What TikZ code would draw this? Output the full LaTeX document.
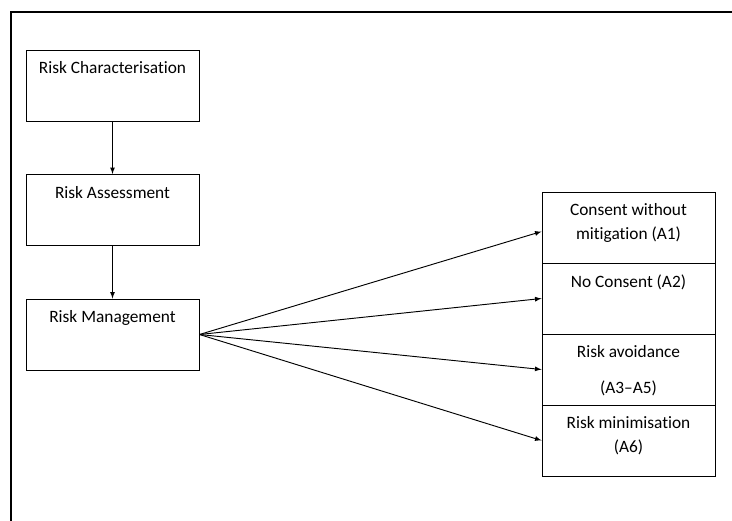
\documentclass[tikz,border=0pt]{standalone}
\usepackage{fontspec}
\setmainfont{Carlito}[Ligatures=NoCommon]
\begin{document}
\begin{tikzpicture}[x=0.75pt, y=-0.75pt, >={latex[scale=1.3]},
        box/.style={draw, line width=0.7pt, minimum width=129.75pt, minimum height=53.25pt, inner sep=0pt},
        txt/.style={anchor=north, inner sep=0pt, align=center, yshift=-9pt, font=\fontsize{13}{18}\selectfont}]
        \useasboundingbox (0, 0) rectangle (732, 521);
        \draw[line width=1.3pt] (11, 521) -- (11, 12) -- (732, 12);
        \node[box, label={[txt]north:Risk Characterisation}] at (112.5, 85.5) (rc) {};
        \node[box, label={[txt]north:Risk Assessment}] at (112.5, 210) (ra) {};
        \node[box, label={[txt]north:Risk Management}] at (112.5, 334.5) (rm) {};
        \node[box, label={[txt]north:Consent without\\mitigation (A1)}] at (628.5, 227.5) (a1) {};
        \node[box, label={[txt]north:No Consent (A2)}] at (628.5, 298.5) (a2) {};
        \node[box, label={[txt]north:Risk avoidance\\[9pt](A3–A5)}] at (628.5, 369.5) (a3) {};
        \node[box, label={[txt]north:Risk minimisation\\(A6)}] at (628.5, 440.5) (a6) {};
        \draw[->, line width=0.7pt] (rc) -- (ra);
        \draw[->, line width=0.7pt] (ra) -- (rm);
        \draw[->, line width=0.7pt] (rm.east) -- ([yshift=-3pt]a1.west);
        \draw[->, line width=0.7pt] (rm.east) -- (a2.west);
        \draw[->, line width=0.7pt] (rm.east) -- (a3.west);
        \draw[->, line width=0.7pt] (rm.east) -- (a6.west);
    \end{tikzpicture}
\end{document}
